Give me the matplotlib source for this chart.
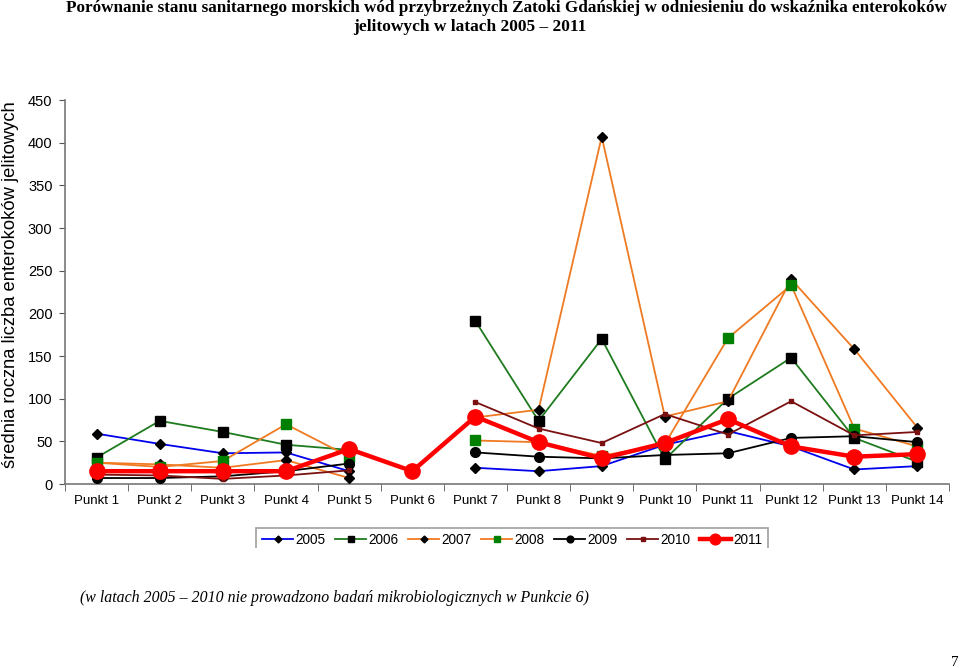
import numpy as np
import matplotlib
matplotlib.use("Agg")
import matplotlib.pyplot as plt
from matplotlib.patches import Rectangle

nan = np.nan
categories = ["Punkt 1", "Punkt 2", "Punkt 3", "Punkt 4", "Punkt 5", "Punkt 6", "Punkt 7",
              "Punkt 8", "Punkt 9", "Punkt 10", "Punkt 11", "Punkt 12", "Punkt 13", "Punkt 14"]
years = ["2005", "2006", "2007", "2008", "2009", "2010", "2011"]

v2005 = [59, 47, 36, 37, 15, nan, 19, 15, 21, 46, 62, 44, 17, 21]
v2006 = [31, 74, 61, 46, 40, nan, 191, 74, 170, 29, 100, 148, 54, 26]
v2007 = [25, 23, 19, 28, 7, nan, 78, 87, 407, 79, 97, 240, 158, 66]
v2008 = [25, 20, 27, 70, 32, nan, 51, 49, 33, 47, 171, 233, 65, 44]
v2009 = [7, 7, 9, 15, 24, nan, 37, 32, 30, 34, 36, 54, 56, 49]
v2010 = [11, 10, 6, 10, 16, nan, 96, 65, 48, 82, 58, 97, 57, 61]
v2011 = [15, 15, 15, 15, 41, 15, 79, 49, 30, 48, 76, 44, 32, 35]

series = [v2005, v2006, v2007, v2008, v2009, v2010, v2011]
styles = [
    dict(color="#0000EE", lw=1.3, marker="D", ms=5, mfc="black", mec="black"),
    dict(color="#1E7B1E", lw=1.3, marker="s", ms=7, mfc="black", mec="black"),
    dict(color="#F07A22", lw=1.3, marker="D", ms=5, mfc="black", mec="black"),
    dict(color="#F07A22", lw=1.3, marker="s", ms=7, mfc="#008000", mec="#008000"),
    dict(color="black", lw=1.3, marker="o", ms=7, mfc="black", mec="black"),
    dict(color="#7A1010", lw=1.3, marker="s", ms=3.5, mfc="#7A1010", mec="#7A1010"),
    dict(color="#FF0000", lw=3.2, marker="o", ms=11, mfc="#FF0000", mec="#FF0000"),
]

plt.rcParams['font.family'] = ['Liberation Sans', 'DejaVu Sans']

fig = plt.figure(figsize=(9.6, 6.68), dpi=100)
ax = fig.add_axes([65/960, 1-484/668, (949-65)/960, (484-100)/668])

x = np.arange(1, len(categories)+1)
handles = []
for i, (vals, st, yr) in enumerate(zip(series, styles, years)):
    h, = ax.plot(x, vals, label=yr, zorder=3+i, **st)
    handles.append(h)

ax.set_xlim(0.5, 14.5)
ax.set_ylim(0, 450)
ax.set_yticks(np.arange(0, 451, 50))
ax.set_xticks(x)
ax.set_xticklabels(categories, fontsize=9.5)
ax.set_xticks(np.arange(0.5, 14.6, 1), minor=True)
ax.tick_params(axis='x', which='major', length=0, pad=8)
ax.tick_params(axis='x', which='minor', length=5, color="#555555")
ax.tick_params(axis='y', length=4, color="#555555", labelsize=10.5, pad=5)
for s in ["top", "right"]:
    ax.spines[s].set_visible(False)
for s in ["left", "bottom"]:
    ax.spines[s].set_color("#777777")
    ax.spines[s].set_linewidth(1.2)

fig.text(11/960, 1-285/668, "średnia roczna liczba enterokoków jelitowych", rotation=90,
         ha="center", va="center", fontsize=13.2)

leg = fig.legend(handles=handles, loc="center", bbox_to_anchor=(512/960, 1-540/668),
                 ncol=7, fontsize=9.8, frameon=True, fancybox=False, handlelength=2.3,
                 handletextpad=0.15, columnspacing=0.7, markerscale=0.7, borderpad=0.4)
leg.get_frame().set_edgecolor("#888888")
leg.get_frame().set_linewidth(1.2)
fig.patches.append(Rectangle((0, 0), 1, 1-548/668, transform=fig.transFigure,
                             facecolor="white", edgecolor="none", zorder=10))

fig.text(506/960, 1-8/668,
         "Porównanie stanu sanitarnego morskich wód przybrzeżnych Zatoki Gdańskiej w odniesieniu do wskaźnika enterokoków",
         ha="center", va="center", fontsize=12.3, fontweight="bold",
         family=["Liberation Serif", "DejaVu Serif"])
fig.text(470/960, 1-27/668, "jelitowych w latach 2005 – 2011",
         ha="center", va="center", fontsize=12.5, fontweight="bold",
         family=["Liberation Serif", "DejaVu Serif"])
fig.text(80/960, 1-598/668,
         "(w latach 2005 – 2010 nie prowadzono badań mikrobiologicznych w Punkcie 6)",
         ha="left", va="center", fontsize=11.4, style="italic",
         family=["Liberation Serif", "DejaVu Serif"], zorder=11)
fig.text(955/960, 1-662/668, "7", ha="center", va="center", fontsize=11,
         family=["Liberation Serif", "DejaVu Serif"], zorder=11)

fig.savefig("out.png", dpi=100)
